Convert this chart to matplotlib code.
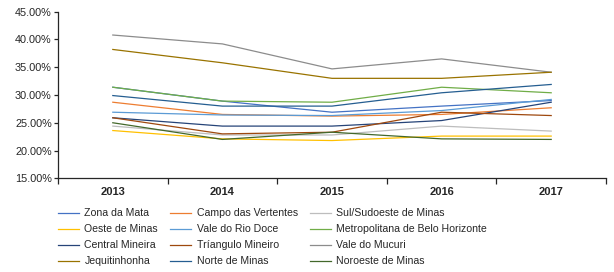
import matplotlib
matplotlib.use("Agg")
import matplotlib.pyplot as plt
from matplotlib.ticker import FixedLocator, FuncFormatter

plt.rcParams['font.family'] = ['Liberation Sans', 'DejaVu Sans']

years = ["2013", "2014", "2015", "2016", "2017"]

zona_da_mata = [31.4, 28.9, 26.9, 28.0, 29.0]
campo_vertentes = [28.7, 26.5, 26.2, 26.5, 27.7]
sul_sudoeste = [24.4, 22.8, 22.8, 24.4, 23.5]
oeste = [23.6, 22.1, 21.8, 22.6, 22.6]
vale_rio_doce = [26.9, 26.4, 26.3, 27.2, 29.2]
metropolitana = [31.4, 28.9, 28.7, 31.4, 30.4]
central = [25.9, 24.4, 24.4, 25.4, 28.7]
triangulo = [25.9, 23.0, 23.3, 26.9, 26.3]
mucuri = [40.8, 39.2, 34.7, 36.5, 34.1]
jequitinhonha = [38.2, 35.8, 33.0, 33.0, 34.1]
norte = [29.9, 28.0, 28.0, 30.4, 31.9]
noroeste = [25.0, 22.0, 23.3, 22.1, 22.0]

series = [
    ("Zona da Mata", zona_da_mata, "#4472C4"),
    ("Campo das Vertentes", campo_vertentes, "#ED7D31"),
    ("Sul/Sudoeste de Minas", sul_sudoeste, "#BDBDBD"),
    ("Oeste de Minas", oeste, "#FFC000"),
    ("Vale do Rio Doce", vale_rio_doce, "#5B9BD5"),
    ("Metropolitana de Belo Horizonte", metropolitana, "#70AD47"),
    ("Central Mineira", central, "#264478"),
    ("Tríangulo Mineiro", triangulo, "#9E480E"),
    ("Vale do Mucuri", mucuri, "#8C8C8C"),
    ("Jequitinhonha", jequitinhonha, "#997300"),
    ("Norte de Minas", norte, "#255E91"),
    ("Noroeste de Minas", noroeste, "#43682B"),
]

fig = plt.figure(figsize=(6.14, 2.72), dpi=100)
ax = fig.add_axes([58/614, 1 - 178.3/272, 548/614, 166.6/272])

handles = []
for name, vals, col in series:
    h, = ax.plot(range(len(years)), vals, color=col, lw=0.9, label=name)
    handles.append(h)

ax.set_xlim(-0.5, len(years) - 0.5)
ax.set_ylim(15, 45)
ax.set_yticks([15, 20, 25, 30, 35, 40, 45])
ax.yaxis.set_major_formatter(FuncFormatter(lambda v, p: f"{v:.2f}%"))
ax.set_xticks(range(len(years)))
ax.set_xticklabels(years, fontweight='bold')
ax.xaxis.set_minor_locator(FixedLocator([i - 0.5 for i in range(len(years) + 1)]))
ax.tick_params(axis='x', which='major', length=0, pad=6.5, labelsize=8, colors='#262626')
ax.tick_params(axis='x', which='minor', length=4, width=0.9, direction='out', color='#262626')
ax.tick_params(axis='y', length=3, width=0.9, pad=1.5, labelsize=7.8, colors='#262626')
for s in ['top', 'right']:
    ax.spines[s].set_visible(False)
for s in ['left', 'bottom']:
    ax.spines[s].set_color('#262626')
    ax.spines[s].set_linewidth(0.9)

# legend filled row by row like the original (3 columns)
ncol = 3
order = [i for c in range(ncol) for i in range(c, len(handles), ncol)]
fig.legend([handles[i] for i in order], [series[i][0] for i in order],
           ncol=ncol, loc='upper left', bbox_to_anchor=(58/614, 1 - 208.5/272),
           frameon=False, fontsize=7.6, handlelength=2.0, handletextpad=0.5,
           columnspacing=1.15, labelspacing=0.56, borderpad=0, borderaxespad=0,
           labelcolor='#262626')

fig.savefig("out.png", dpi=100)
